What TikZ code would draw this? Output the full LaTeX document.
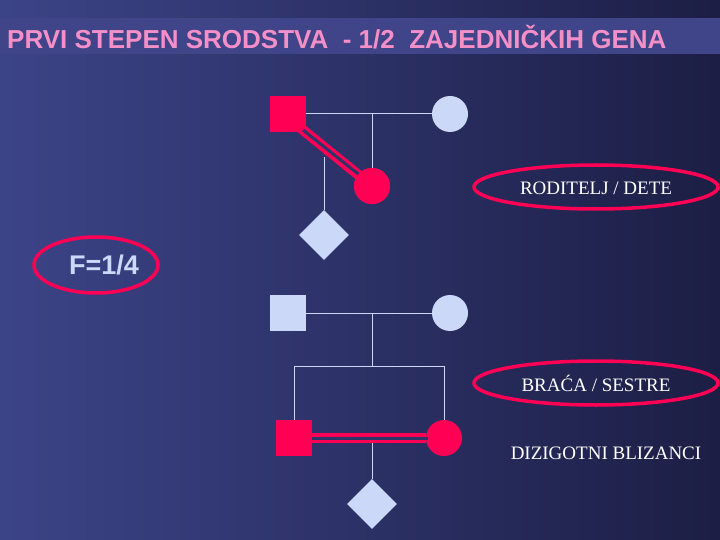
\documentclass[tikz,border=0pt]{standalone}
\usetikzlibrary{shapes.geometric}
\usepackage{fontspec}
\setmainfont{Liberation Serif}
\newfontfamily\arialf{Liberation Sans}
\begin{document}
\begin{tikzpicture}[x=1pt,y=-1pt,
  lt/.style={fill=light,draw=none},
  rd/.style={fill=red0,draw=none},
  ln/.style={draw=light,line width=1pt},
  dbl/.style={draw=red0,line width=10pt},
  dblin/.style={draw=bgmid,line width=3pt},
  lab/.style={draw=red0,line width=3.5pt,ellipse,inner sep=0pt},
  sq/.style={rectangle,minimum size=36pt,inner sep=0pt},
  ci/.style={circle,minimum size=36pt,inner sep=0pt},
  di/.style={diamond,minimum size=50pt,inner sep=0pt,fill=light,draw=none},
  lbl/.style={text=white,font=\fontsize{19}{21}\selectfont}]
\definecolor{light}{HTML}{CCD8F8}
\definecolor{red0}{HTML}{FF0055}
\definecolor{bgmid}{HTML}{2F3468}
\definecolor{bgl}{HTML}{3C4488}
\definecolor{bgr}{HTML}{1C1E44}
\definecolor{bar}{HTML}{3F4588}
\definecolor{pink}{HTML}{F48FC8}
\useasboundingbox (0,0) rectangle (720,540);
\shade[left color=bgl,right color=bgr] (0,0) rectangle (720,540);
\fill[bar] (0,18) rectangle (720,54);
\node[anchor=west,text=pink,font=\arialf\bfseries\fontsize{26}{28}\selectfont,inner sep=0pt] (title) at (7,37) {PRVI STEPEN SRODSTVA\ \ - 1/2\ \ ZAJEDNIČKIH GENA};
% top pedigree
\coordinate (t1) at (372,114);
\coordinate (t2) at (324,157);
\draw[ln] (306,114) -- (432,114);
\draw[ln] (t1) -- (372,170);
\node[sq,rd] (f1) at (288,114) {};
\node[ci,lt] (m1) at (450,114) {};
\node[ci,rd] (c1) at (372,186) {};
\draw[dbl] (298,126) -- (c1.center);
\draw[dblin] (303,130) -- (362,177);
\node[di] (d1) at (324,235) {};
\draw[ln] (t2) -- (d1.north);
\node[ci,rd] at (372,186) {};
% bottom pedigree
\node[sq,lt] (f2) at (288,313) {};
\node[ci,lt] (m2) at (450,313) {};
\draw[ln] (f2.east) -- (m2.west);
\coordinate (b1) at (372,313);
\coordinate (b2) at (372,366);
\draw[ln] (b1) -- (b2);
\draw[ln] (294,420) -- (294,366) -- (444,366) -- (444,420);
\node[sq,rd] (s1) at (294,438) {};
\node[ci,rd] (s2) at (444,438) {};
\draw[dbl] (s1.east) -- (s2.west);
\draw[dblin] (312,438) -- (428,438);
\node[di] (d2) at (372,504) {};
\draw[ln] (372,443) -- (d2.north);
% labels
\node[lab,minimum width=244pt,minimum height=44pt] (e1) at (596,187) {};
\node[lbl] (l1) at (596,188) {RODITELJ / DETE};
\node[lab,minimum width=124pt,minimum height=56pt] (e2) at (96,265) {};
\node[text=light,font=\arialf\bfseries\fontsize{27}{29}\selectfont] (l2) at (104,265) {F=1/4};
\node[lab,minimum width=244pt,minimum height=44pt] (e3) at (596,383) {};
\node[lbl] (l3) at (596,383) {BRAĆA / SESTRE};
\node[lbl] (l4) at (606,453) {DIZIGOTNI BLIZANCI};
\end{tikzpicture}
\end{document}
